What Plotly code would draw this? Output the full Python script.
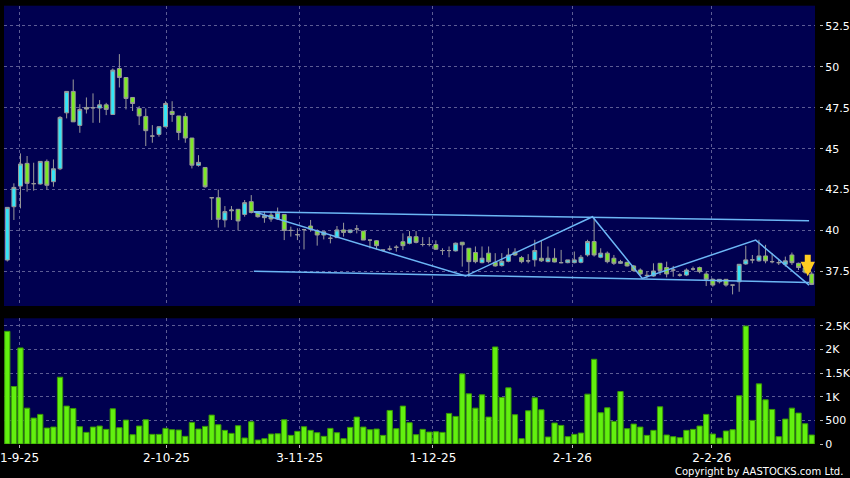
import plotly.graph_objects as go

# ---------------- data ----------------
opens = [38.19, 41.45, 42.71, 44.10, 42.86, 42.84, 44.22, 42.98, 43.77, 47.19,
         48.50, 46.42, 47.52, 47.50, 47.48, 47.68, 47.09, 49.90, 49.35, 48.13,
         47.46, 46.97, 45.77, 45.87, 46.34, 47.28, 47.00, 46.97, 45.65, 43.98,
         43.85, 42.00, 42.00, 40.64, 41.20, 41.29, 40.98, 41.76, 41.15, 40.78,
         40.94, 40.70, 40.98, 40.00, 39.74, 40.05, 40.27, 39.98, 39.72, 39.52,
         39.56, 40.03, 39.88, 40.09, 39.96, 39.41, 39.37, 38.80, 38.86, 38.97,
         39.31, 39.21, 39.62, 39.14, 39.14, 39.14, 38.77, 38.77, 38.75, 39.28,
         38.91, 38.65, 38.03, 38.61, 38.05, 37.85, 38.11, 38.67, 38.34, 38.14,
         38.20, 38.30, 38.09, 38.30, 38.03, 38.03, 38.03, 38.05, 38.50, 39.32,
         38.36, 38.61, 38.30, 37.99, 38.05, 37.83, 37.58, 37.25, 37.21, 37.99,
         37.73, 37.58, 37.27, 37.27, 37.64, 37.73, 37.34, 37.01, 36.86, 37.01,
         36.66, 36.86, 37.95, 38.20, 38.14, 38.44, 38.09, 38.03, 37.93, 38.50,
         37.99, 37.70, 37.34]
highs = [41.41, 42.88, 44.71, 44.55, 44.14, 44.22, 44.34, 44.34, 46.99, 48.50,
         49.23, 47.72, 48.13, 48.38, 47.97, 47.80, 49.90, 50.78, 49.35, 48.13,
         47.60, 47.46, 46.44, 46.38, 47.90, 47.90, 47.00, 47.19, 45.65, 44.60,
         43.85, 42.00, 42.50, 41.49, 41.49, 41.29, 41.86, 42.16, 41.19, 41.15,
         41.15, 41.40, 40.98, 40.23, 40.13, 40.10, 40.64, 40.07, 39.92, 39.72,
         40.27, 40.47, 40.03, 40.33, 39.96, 39.41, 39.41, 38.80, 39.07, 39.10,
         39.82, 39.96, 39.96, 39.59, 39.59, 39.39, 38.91, 39.02, 39.26, 39.28,
         38.91, 39.02, 39.02, 39.02, 38.61, 38.61, 38.91, 38.91, 38.44, 38.55,
         39.43, 39.36, 39.02, 38.91, 38.81, 38.20, 38.71, 38.50, 39.43, 40.76,
         38.91, 38.71, 38.50, 38.20, 38.09, 37.89, 37.68, 37.48, 37.99, 37.99,
         38.09, 37.83, 37.38, 37.68, 37.79, 37.79, 37.48, 37.07, 37.01, 37.01,
         36.66, 37.93, 39.06, 38.50, 39.43, 39.12, 38.61, 38.20, 38.40, 38.65,
         38.03, 37.80, 37.48]
lows = [38.10, 40.64, 41.35, 42.37, 42.43, 42.80, 42.50, 42.67, 43.69, 46.85,
        46.64, 45.97, 47.15, 46.58, 46.58, 47.05, 47.09, 48.74, 47.40, 47.30,
        46.44, 45.16, 45.36, 45.73, 46.30, 46.64, 45.52, 45.36, 43.79, 43.90,
        42.60, 40.64, 40.17, 40.19, 40.64, 40.00, 40.84, 41.04, 40.78, 40.47,
        40.53, 40.64, 39.41, 39.62, 39.41, 38.84, 39.92, 39.07, 39.45, 39.21,
        39.56, 39.62, 39.82, 39.82, 39.41, 38.90, 38.84, 38.70, 38.76, 38.70,
        38.80, 39.15, 39.21, 39.02, 39.02, 38.81, 38.50, 38.36, 38.71, 37.79,
        37.17, 37.99, 37.99, 37.99, 37.79, 37.79, 38.05, 38.44, 37.99, 37.99,
        37.79, 38.07, 38.05, 38.05, 37.99, 37.99, 37.99, 37.99, 38.40, 38.40,
        38.30, 37.99, 37.89, 37.95, 37.79, 37.48, 37.27, 37.07, 37.17, 37.27,
        37.13, 37.17, 37.17, 37.21, 37.54, 37.38, 36.60, 36.56, 36.76, 36.56,
        36.09, 36.25, 37.90, 37.99, 38.09, 37.99, 37.99, 37.89, 37.79, 37.89,
        37.58, 37.35, 36.66]
closes = [41.41, 42.63, 44.06, 42.88, 42.86, 44.22, 42.76, 43.77, 46.91, 48.50,
          46.64, 47.40, 47.42, 47.50, 47.68, 47.40, 49.80, 49.35, 48.07, 47.76,
          47.00, 46.10, 45.77, 46.34, 47.76, 47.09, 45.99, 45.65, 43.99, 44.16,
          42.67, 42.00, 40.68, 41.15, 41.25, 40.58, 41.70, 41.10, 40.84, 40.90,
          40.70, 41.10, 40.00, 40.00, 39.74, 40.05, 40.07, 39.72, 39.92, 39.52,
          40.03, 39.88, 40.03, 40.09, 39.41, 39.41, 39.07, 38.80, 38.86, 38.97,
          39.07, 39.62, 39.27, 39.14, 39.14, 38.85, 38.77, 38.77, 39.22, 39.12,
          38.09, 38.09, 38.30, 38.09, 37.83, 38.11, 38.50, 38.50, 38.09, 38.14,
          38.77, 38.14, 38.30, 38.07, 38.03, 38.20, 38.20, 38.36, 39.32, 38.50,
          38.61, 38.09, 37.99, 38.09, 37.83, 37.54, 37.34, 37.25, 37.52, 37.54,
          37.34, 37.58, 37.27, 37.58, 37.64, 37.48, 37.01, 36.66, 37.01, 36.66,
          36.66, 37.93, 38.20, 38.20, 38.44, 38.14, 38.09, 38.03, 38.14, 38.03,
          37.73, 37.45, 36.70]
volumes = [2387, 1218, 2035, 760, 549, 627, 338, 359, 1415, 803,
           753, 366, 246, 359, 380, 310, 746, 345, 507, 197,
           380, 514, 204, 204, 331, 303, 296, 162, 458, 317,
           373, 612, 408, 289, 225, 387, 127, 472, 84, 113,
           211, 218, 514, 183, 268, 366, 289, 239, 162, 331,
           239, 113, 352, 570, 359, 303, 317, 183, 711, 324,
           803, 451, 197, 310, 253, 260, 246, 648, 584, 1485,
           1063, 760, 1042, 570, 2056, 986, 1190, 620, 113, 704,
           979, 725, 148, 444, 394, 155, 204, 232, 1056, 1795,
           662, 767, 479, 1112, 324, 422, 359, 183, 289, 788,
           190, 155, 134, 289, 310, 380, 627, 211, 127, 275,
           303, 1021, 2499, 500, 1274, 936, 732, 155, 528, 760,
           655, 429, 190]
bar_index = list(range(len(closes)))

date_labels = ["1-9-25", "2-10-25", "3-11-25", "1-12-25", "2-1-26", "2-2-26"]
date_positions = [1.85, 24.15, 44.35, 64.55, 85.7, 106.85]

price_ticks = [37.5, 40, 42.5, 45, 47.5, 50, 52.5]
volume_ticks = [0, 500, 1000, 1500, 2000, 2500]
volume_tick_labels = ["0", "500", "1K", "1.5K", "2K", "2.5K"]

# trend lines drawn on the chart
upper_line_idx = [37.4, 121.6]
upper_line_price = [41.14, 40.59]
lower_line_idx = [37.4, 121.6]
lower_line_price = [37.51, 36.82]
zigzag_idx = [37.4, 69.5, 88.75, 96.3, 113.5, 121.6]
zigzag_price = [41.14, 37.21, 40.84, 37.07, 39.41, 36.66]

signal_idx = 121.4
signal_price = 37.2

# ---------------- styling ----------------
BG = "#000050"
GRID = "#5c5c94"
LINE_BLUE = "#6cb6f5"
FONT = "DejaVu Sans"
xdom = [4 / 850, 815 / 850]
ydom_price = [1 - 306 / 478, 1 - 5.7 / 478]
ydom_vol = [1 - 444 / 478, 1 - 318.3 / 478]

fig = go.Figure()

fig.add_trace(go.Candlestick(
    x=bar_index, open=opens, high=highs, low=lows, close=closes,
    xaxis="x", yaxis="y", whiskerwidth=0,
    increasing=dict(line=dict(color="#9a9a9a", width=1), fillcolor="#33e6f8"),
    decreasing=dict(line=dict(color="#9a9a9a", width=1), fillcolor="#7ce826"),
    showlegend=False, hoverinfo="skip",
))

for xs, ys in [(upper_line_idx, upper_line_price),
               (lower_line_idx, lower_line_price),
               (zigzag_idx, zigzag_price)]:
    fig.add_trace(go.Scatter(x=xs, y=ys, mode="lines", xaxis="x", yaxis="y",
                             line=dict(color=LINE_BLUE, width=1.5),
                             showlegend=False, hoverinfo="skip"))

fig.add_trace(go.Bar(
    x=bar_index, y=volumes, xaxis="x2", yaxis="y2",
    marker=dict(color="#62f00f", line=dict(color="#3a9a05", width=1)),
    showlegend=False, hoverinfo="skip",
))

fig.add_annotation(
    x=signal_idx, y=signal_price, xref="x", yref="y", text="",
    showarrow=True, arrowhead=2, arrowsize=0.48, arrowwidth=6,
    arrowcolor="#ffcc22", ax=0, ay=-23,
)

fig.add_annotation(
    x=845 / 850, y=0, xref="paper", yref="paper", xanchor="right", yanchor="bottom",
    text="Copyright by AASTOCKS.com Ltd.", showarrow=False, yshift=-1,
    font=dict(family=FONT, size=10, color="#ffffff"),
)

grid_common = dict(showgrid=True, gridcolor=GRID, gridwidth=1, griddash="3px,3px",
                   zeroline=False, showline=False)

fig.update_layout(
    width=850, height=478,
    margin=dict(l=0, r=0, t=0, b=0, autoexpand=False),
    paper_bgcolor="#000000", plot_bgcolor=BG,
    bargap=0.2, boxgap=0.15,
    font=dict(family=FONT, color="#ffffff"),
    xaxis=dict(domain=xdom, range=[-0.5, 122.5], anchor="y",
               tickvals=date_positions, showticklabels=False, ticks="",
               rangeslider=dict(visible=False), **grid_common),
    xaxis2=dict(domain=xdom, range=[-0.5, 122.5], anchor="y2",
                tickvals=date_positions, ticktext=date_labels,
                ticks="outside", ticklen=3, tickcolor="#bbbbbb",
                ticklabeloverflow="allow",
                tickfont=dict(family=FONT, size=12, color="#ffffff"), **grid_common),
    yaxis=dict(domain=ydom_price, range=[35.38, 53.74], anchor="free",
               position=819 / 850, side="right",
               tickvals=price_ticks, ticks="outside", ticklen=3, tickcolor="#bbbbbb",
               ticklabeloverflow="allow",
               tickfont=dict(family=FONT, size=11, color="#ffffff"), **grid_common),
    yaxis2=dict(domain=ydom_vol, range=[0, 2663], anchor="free",
                position=819 / 850, side="right",
                tickvals=volume_ticks, ticktext=volume_tick_labels,
                ticks="outside", ticklen=3, tickcolor="#bbbbbb",
                ticklabeloverflow="allow",
                tickfont=dict(family=FONT, size=11, color="#ffffff"), **grid_common),
)

fig.write_html("out.html", config={"displayModeBar": False},
               post_script="document.body.style.margin='0';")
